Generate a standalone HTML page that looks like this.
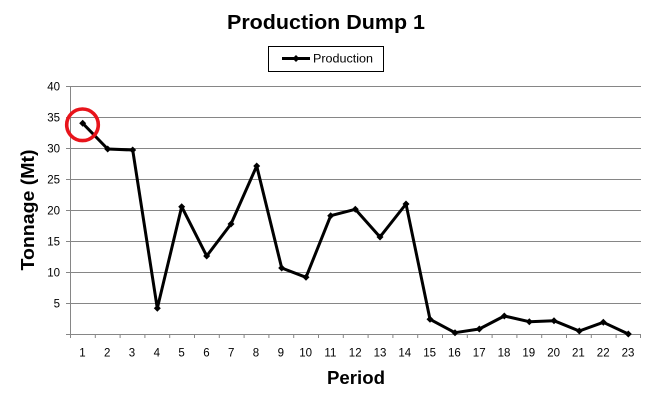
<!DOCTYPE html>
<html><head><meta charset="utf-8"><style>
html,body{margin:0;padding:0;background:#fff;}
svg{display:block;}
</style></head><body>
<svg width="651" height="402" viewBox="0 0 651 402" xmlns="http://www.w3.org/2000/svg" font-family="Liberation Sans, sans-serif">
<rect width="651" height="402" fill="#fff"/>
<text x="326" y="29" font-size="20" font-weight="bold" text-anchor="middle" textLength="198" lengthAdjust="spacingAndGlyphs">Production Dump 1</text>
<rect x="268.5" y="46.5" width="115" height="25" fill="#fff" stroke="#000" stroke-width="1"/>
<line x1="282" y1="58.5" x2="310" y2="58.5" stroke="#000" stroke-width="3"/>
<path d="M296 55 L299.5 58.5 L296 62 L292.5 58.5 Z" fill="#000"/>
<text x="313" y="62.5" font-size="11.5" textLength="60" lengthAdjust="spacingAndGlyphs">Production</text>
<g stroke="#868686" stroke-width="1">
<line x1="66" y1="86.5" x2="641" y2="86.5"/>
<line x1="66" y1="117.5" x2="641" y2="117.5"/>
<line x1="66" y1="148.5" x2="641" y2="148.5"/>
<line x1="66" y1="179.5" x2="641" y2="179.5"/>
<line x1="66" y1="210.5" x2="641" y2="210.5"/>
<line x1="66" y1="241.5" x2="641" y2="241.5"/>
<line x1="66" y1="272.5" x2="641" y2="272.5"/>
<line x1="66" y1="303.5" x2="641" y2="303.5"/>
<line x1="66" y1="334.5" x2="641" y2="334.5"/>
<line x1="70.5" y1="86" x2="70.5" y2="338"/>
</g>
<g stroke="#868686" stroke-width="1" id="xt">
<line x1="95.3" y1="334" x2="95.3" y2="338"/><line x1="120.1" y1="334" x2="120.1" y2="338"/><line x1="144.9" y1="334" x2="144.9" y2="338"/><line x1="169.7" y1="334" x2="169.7" y2="338"/><line x1="194.5" y1="334" x2="194.5" y2="338"/><line x1="219.3" y1="334" x2="219.3" y2="338"/><line x1="244.1" y1="334" x2="244.1" y2="338"/><line x1="268.9" y1="334" x2="268.9" y2="338"/><line x1="293.7" y1="334" x2="293.7" y2="338"/><line x1="318.5" y1="334" x2="318.5" y2="338"/><line x1="343.3" y1="334" x2="343.3" y2="338"/><line x1="368.1" y1="334" x2="368.1" y2="338"/><line x1="392.9" y1="334" x2="392.9" y2="338"/><line x1="417.7" y1="334" x2="417.7" y2="338"/><line x1="442.5" y1="334" x2="442.5" y2="338"/><line x1="467.3" y1="334" x2="467.3" y2="338"/><line x1="492.1" y1="334" x2="492.1" y2="338"/><line x1="516.9" y1="334" x2="516.9" y2="338"/><line x1="541.7" y1="334" x2="541.7" y2="338"/><line x1="566.5" y1="334" x2="566.5" y2="338"/><line x1="591.3" y1="334" x2="591.3" y2="338"/><line x1="616.1" y1="334" x2="616.1" y2="338"/><line x1="640.5" y1="334" x2="640.5" y2="338"/>
</g>
<g font-size="11.5" fill="#000" text-anchor="end">
<text x="60" y="90.5">40</text>
<text x="60" y="121.5">35</text>
<text x="60" y="152.5">30</text>
<text x="60" y="183.5">25</text>
<text x="60" y="214.5">20</text>
<text x="60" y="245.5">15</text>
<text x="60" y="276.5">10</text>
<text x="60" y="307.5">5</text>
</g>
<g font-size="11.5" fill="#000" text-anchor="middle">
<text x="82.4" y="356.5">1</text><text x="107.2" y="356.5">2</text><text x="132" y="356.5">3</text><text x="156.8" y="356.5">4</text><text x="181.6" y="356.5">5</text><text x="206.4" y="356.5">6</text><text x="231.2" y="356.5">7</text><text x="256" y="356.5">8</text><text x="280.8" y="356.5">9</text><text x="305.6" y="356.5">10</text><text x="330.4" y="356.5">11</text><text x="355.2" y="356.5">12</text><text x="380" y="356.5">13</text><text x="404.8" y="356.5">14</text><text x="429.6" y="356.5">15</text><text x="454.4" y="356.5">16</text><text x="479.2" y="356.5">17</text><text x="504" y="356.5">18</text><text x="528.8" y="356.5">19</text><text x="553.6" y="356.5">20</text><text x="578.4" y="356.5">21</text><text x="603.2" y="356.5">22</text><text x="628" y="356.5">23</text>
</g>
<text x="356" y="384" font-size="18" font-weight="bold" text-anchor="middle" textLength="58" lengthAdjust="spacingAndGlyphs">Period</text>
<text transform="translate(34,210) rotate(-90)" font-size="18" font-weight="bold" text-anchor="middle" textLength="121" lengthAdjust="spacingAndGlyphs">Tonnage (Mt)</text>
<polyline fill="none" stroke="#000" stroke-width="3" stroke-linejoin="round" points="82.7,123.3 107.7,149 132.7,150 157.3,308.3 181.7,206.7 206.7,256 231,224 256.7,166 281.7,268 306,277.3 330.7,215.7 355.3,209.3 380,237 406,204 430,319.3 455,332.7 479.3,329 504.3,316 529.3,321.7 554,320.7 579.3,331 603.3,322.3 628.3,334"/>
<g fill="#000">
<path d="M82.7 119.8l3.5 3.5-3.5 3.5-3.5-3.5z"/><path d="M107.7 145.5l3.5 3.5-3.5 3.5-3.5-3.5z"/><path d="M132.7 146.5l3.5 3.5-3.5 3.5-3.5-3.5z"/><path d="M157.3 304.8l3.5 3.5-3.5 3.5-3.5-3.5z"/><path d="M181.7 203.2l3.5 3.5-3.5 3.5-3.5-3.5z"/><path d="M206.7 252.5l3.5 3.5-3.5 3.5-3.5-3.5z"/><path d="M231 220.5l3.5 3.5-3.5 3.5-3.5-3.5z"/><path d="M256.7 162.5l3.5 3.5-3.5 3.5-3.5-3.5z"/><path d="M281.7 264.5l3.5 3.5-3.5 3.5-3.5-3.5z"/><path d="M306 273.8l3.5 3.5-3.5 3.5-3.5-3.5z"/><path d="M330.7 212.2l3.5 3.5-3.5 3.5-3.5-3.5z"/><path d="M355.3 205.8l3.5 3.5-3.5 3.5-3.5-3.5z"/><path d="M380 233.5l3.5 3.5-3.5 3.5-3.5-3.5z"/><path d="M406 200.5l3.5 3.5-3.5 3.5-3.5-3.5z"/><path d="M430 315.8l3.5 3.5-3.5 3.5-3.5-3.5z"/><path d="M455 329.2l3.5 3.5-3.5 3.5-3.5-3.5z"/><path d="M479.3 325.5l3.5 3.5-3.5 3.5-3.5-3.5z"/><path d="M504.3 312.5l3.5 3.5-3.5 3.5-3.5-3.5z"/><path d="M529.3 318.2l3.5 3.5-3.5 3.5-3.5-3.5z"/><path d="M554 317.2l3.5 3.5-3.5 3.5-3.5-3.5z"/><path d="M579.3 327.5l3.5 3.5-3.5 3.5-3.5-3.5z"/><path d="M603.3 318.8l3.5 3.5-3.5 3.5-3.5-3.5z"/><path d="M628.3 330.5l3.5 3.5-3.5 3.5-3.5-3.5z"/>
</g>
<circle cx="82.5" cy="124.8" r="15.8" fill="none" stroke="#e8141b" stroke-width="3.6"/>
</svg>
</body></html>
